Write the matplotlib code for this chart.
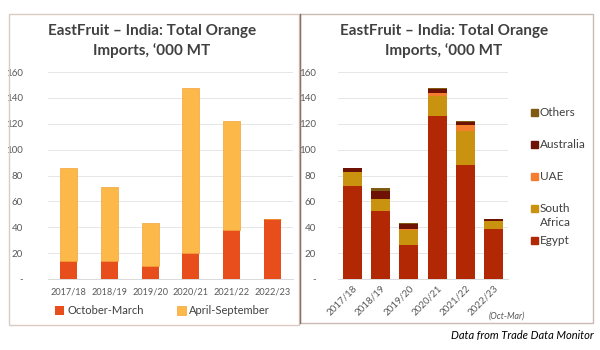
import numpy as np
import matplotlib.pyplot as plt
from matplotlib.patches import Rectangle
from matplotlib.ticker import FuncFormatter

plt.rcParams['font.family'] = ['Lato', 'DejaVu Sans']

# ── Дані ──────────────────────────────────────────────────────────────
seasons = ['2017/18', '2018/19', '2019/20', '2020/21', '2021/22', '2022/23']

oct_mar = [14, 14, 10, 20, 38, 46.5]
apr_sep = [72, 57, 33, 127.5, 84, 0]

egypt = [71.8, 52.7, 26.6, 126.3, 88.4, 38.3]
south_africa = [11.2, 9.2, 11.2, 14.8, 26.1, 6.4]
uae = [0, 0, 0.6, 2.3, 4.9, 0]
australia = [2.6, 6.1, 4.0, 3.3, 2.3, 1.3]
others = [0.4, 2.5, 1.0, 1.0, 0.7, 0.5]

title = 'EastFruit – India: Total Orange\nImports, ‘000 MT'

# ── Фігура ────────────────────────────────────────────────────────────
fig = plt.figure(figsize=(6, 3.5), dpi=100)
fig.patch.set_facecolor('white')

W, H = 600, 350


def fig_box(x0, y0, x1, y1):
    # пікселі (зверху вниз) -> частки фігури
    return [x0 / W, 1 - y1 / H, (x1 - x0) / W, (y1 - y0) / H]


# рамки панелей
fig.patches.append(Rectangle((9 / W, 1 - 325 / H), 290 / W, 311 / H,
                             transform=fig.transFigure, fill=False,
                             edgecolor='#DCCAC4', linewidth=1.0))
fig.patches.append(Rectangle((300 / W, 1 - 323 / H), 293 / W, 309 / H,
                             transform=fig.transFigure, fill=False,
                             edgecolor='#C9BBB4', linewidth=1.0))
fig.add_artist(plt.Line2D([300 / W, 300 / W], [1 - 323 / H, 1 - 14 / H],
                          transform=fig.transFigure, color='#8C7264', lw=1.0))

fmt = FuncFormatter(lambda v, p: '-' if v == 0 else f'{v:.0f}')


def style_axis(ax):
    ax.set_ylim(0, 160)
    ax.set_yticks(np.arange(0, 161, 20))
    ax.yaxis.set_major_formatter(fmt)
    ax.set_xlim(-0.5, len(seasons) - 0.5)
    ax.set_xticks(np.arange(len(seasons)))
    ax.grid(axis='y', color='#E6E6E6', linewidth=0.7)
    ax.set_axisbelow(True)
    for s in ['top', 'right', 'left']:
        ax.spines[s].set_visible(False)
    ax.spines['bottom'].set_color('#DADADA')
    ax.spines['bottom'].set_linewidth(0.7)
    ax.tick_params(length=0, colors='#595959', labelsize=7)


# ── Лівий графік ──────────────────────────────────────────────────────
ax1 = fig.add_axes(fig_box(48, 72, 293, 279))
x = np.arange(len(seasons))
b1 = ax1.bar(x, oct_mar, width=0.42, color='#E84E1C', label='October-March')
b2 = ax1.bar(x, apr_sep, width=0.42, bottom=oct_mar, color='#FDB84A',
             edgecolor='#F2A33A', linewidth=0.5, label='April-September')
style_axis(ax1)
ax1.set_xticklabels(seasons, fontsize=6.6)
ax1.tick_params(axis='x', pad=6)
ax1.tick_params(axis='y', pad=18)
ax1.legend(loc='center left', bbox_to_anchor=(45 / W, 1 - 311 / H),
           bbox_transform=fig.transFigure, ncol=2, frameon=False,
           fontsize=8, handlelength=0.8, handleheight=0.8,
           handletextpad=0.3, columnspacing=3.0, labelcolor='#404040')
fig.text(152 / W, 1 - 41 / H, title, ha='center', va='center',
         fontsize=11, fontweight='bold', color='#404040', linespacing=1.45)

# ── Правий графік ─────────────────────────────────────────────────────
ax2 = fig.add_axes(fig_box(338, 72, 508, 279))
series = [('Egypt', egypt, '#B22805'),
          ('South\nAfrica', south_africa, '#C99310'),
          ('UAE', uae, '#F47D30'),
          ('Australia', australia, '#6E1205'),
          ('Others', others, '#7F5A12')]
bottom = np.zeros(len(seasons))
for name, vals, col in series:
    ax2.bar(x, vals, width=0.67, bottom=bottom, color=col, label=name)
    bottom += np.array(vals)
style_axis(ax2)
ax2.set_xticklabels(seasons, fontsize=7, rotation=45, ha='right',
                    rotation_mode='anchor')
ax2.tick_params(axis='x', pad=3)
ax2.tick_params(axis='y', pad=16)

# легенда вручну: квадрат на рівні першого рядка підпису (як в Excel)
for k, (name, vals, col) in enumerate(series[::-1]):
    yk = 1 - (112 + 32 * k) / H
    fig.patches.append(Rectangle((531 / W, yk - 3.5 / H), 7 / W, 7 / H,
                                 transform=fig.transFigure, color=col))
    fig.text(540 / W, yk + 4.5 / H, name, ha='left', va='top', fontsize=8.5,
             color='#404040', linespacing=1.25)

fig.text(444 / W, 1 - 41 / H, title, ha='center', va='center',
         fontsize=11, fontweight='bold', color='#404040', linespacing=1.45)
fig.text(507 / W, 1 - 316 / H, '(Oct-Mar)', ha='center', va='center',
         fontsize=6.3, style='italic', color='#595959')

fig.text(594 / W, 1 - 336 / H, 'Data from Trade Data Monitor', ha='right',
         va='center', fontsize=8, style='italic', color='#000000')

plt.savefig('out.png', dpi=100, facecolor='white')
